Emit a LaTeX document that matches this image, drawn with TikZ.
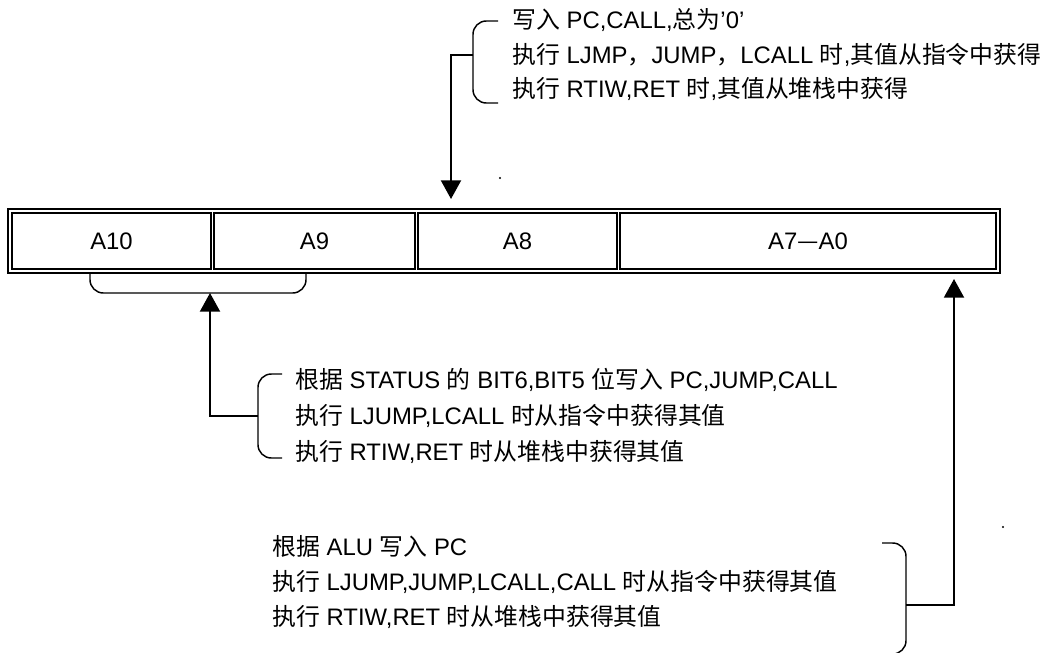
\documentclass[tikz,border=0pt]{standalone}
\usepackage{fontspec}
\setmainfont{Liberation Sans}
\newfontfamily\cj{Noto Sans CJK SC}
\usetikzlibrary{arrows.meta}
\begin{document}
\begin{tikzpicture}[x=0.75pt,y=-0.75pt,
  every node/.style={font=\fontsize{17.9}{21}\selectfont},
  txt/.style={anchor=base west,inner sep=0pt},
  cellbox/.style={draw,line width=1.1pt,inner sep=0pt,minimum height=42pt},
  outerbox/.style={draw,line width=1.5pt,inner sep=0pt,minimum width=744pt,minimum height=48pt},
  brk/.style={line width=1.1pt,rounded corners=10pt},
  arr/.style={line width=1.5pt,-{Triangle[width=15pt,length=14pt]}}]
\useasboundingbox (0,0) rectangle (1046,653);
% register
\node[outerbox] (reg) at (504,241) {};
\node[cellbox,minimum width=149.25pt] (a10) at (111.5,241) {A10};
\node[cellbox,minimum width=150.75pt] (a9) at (314.5,241) {A9};
\node[cellbox,minimum width=149.25pt] (a8) at (517.5,241) {A8};
\node[cellbox,minimum width=282pt] (a70) at (808,241) {A7{\cj —}A0};
% top group
\node[txt] (t1) at (512,28) {{\cj 写入} PC,CALL,{\cj 总为}'0'};
\node[txt] (t2) at (512,63) {{\cj 执行} LJMP{\cj ，}JUMP{\cj ，}LCALL {\cj 时},{\cj 其值从指令中获得}};
\node[txt] (t3) at (512,97) {{\cj 执行} RTIW,RET {\cj 时},{\cj 其值从堆栈中获得}};
\coordinate (tb1) at (498,21);
\coordinate (tb2) at (498,103);
\coordinate (tbj) at (473,55);
\coordinate (ttip) at (451,199);
\draw[brk] (tb1) -- (473,21) -- (473,103) -- (tb2);
\draw[arr] (tbj) -- (451,55) -- (ttip);
% middle group
\node[txt] (m1) at (295,388) {{\cj 根据} STATUS {\cj 的} BIT6,BIT5 {\cj 位写入} PC,JUMP,CALL};
\node[txt] (m2) at (295,424) {{\cj 执行} LJUMP,LCALL {\cj 时从指令中获得其值}};
\node[txt] (m3) at (295,460) {{\cj 执行} RTIW,RET {\cj 时从堆栈中获得其值}};
\coordinate (mb1) at (282,374);
\coordinate (mb2) at (282,458);
\coordinate (mbj) at (258,416);
\draw[brk] (mb1) -- (258,374) -- (258,458) -- (mb2);
% brace under A10, A9
\coordinate (br1) at (90,273);
\coordinate (br2) at (306,273);
\coordinate (mtip) at (210,293);
\draw[brk] (br1) -- (90,293) -- (306,293) -- (br2);
\draw[arr] (mbj) -- (210,416) -- (mtip);
% bottom group
\node[txt] (b1) at (272,555) {{\cj 根据} ALU {\cj 写入} PC};
\node[txt] (b2) at (272,590) {{\cj 执行} LJUMP,JUMP,LCALL,CALL {\cj 时从指令中获得其值}};
\node[txt] (b3) at (272,625) {{\cj 执行} RTIW,RET {\cj 时从堆栈中获得其值}};
\coordinate (rb1) at (882,543);
\coordinate (rb2) at (882,654);
\coordinate (rbj) at (906,605);
\coordinate (rtip) at (954,279);
\draw[brk] (rb1) -- (906,543) -- (906,654) -- (rb2);
\draw[arr] (rbj) -- (954,605) -- (rtip);
% stray dots
\fill (500,178) circle (0.8pt);
\fill (1003,527) circle (0.8pt);
\end{tikzpicture}
\end{document}
